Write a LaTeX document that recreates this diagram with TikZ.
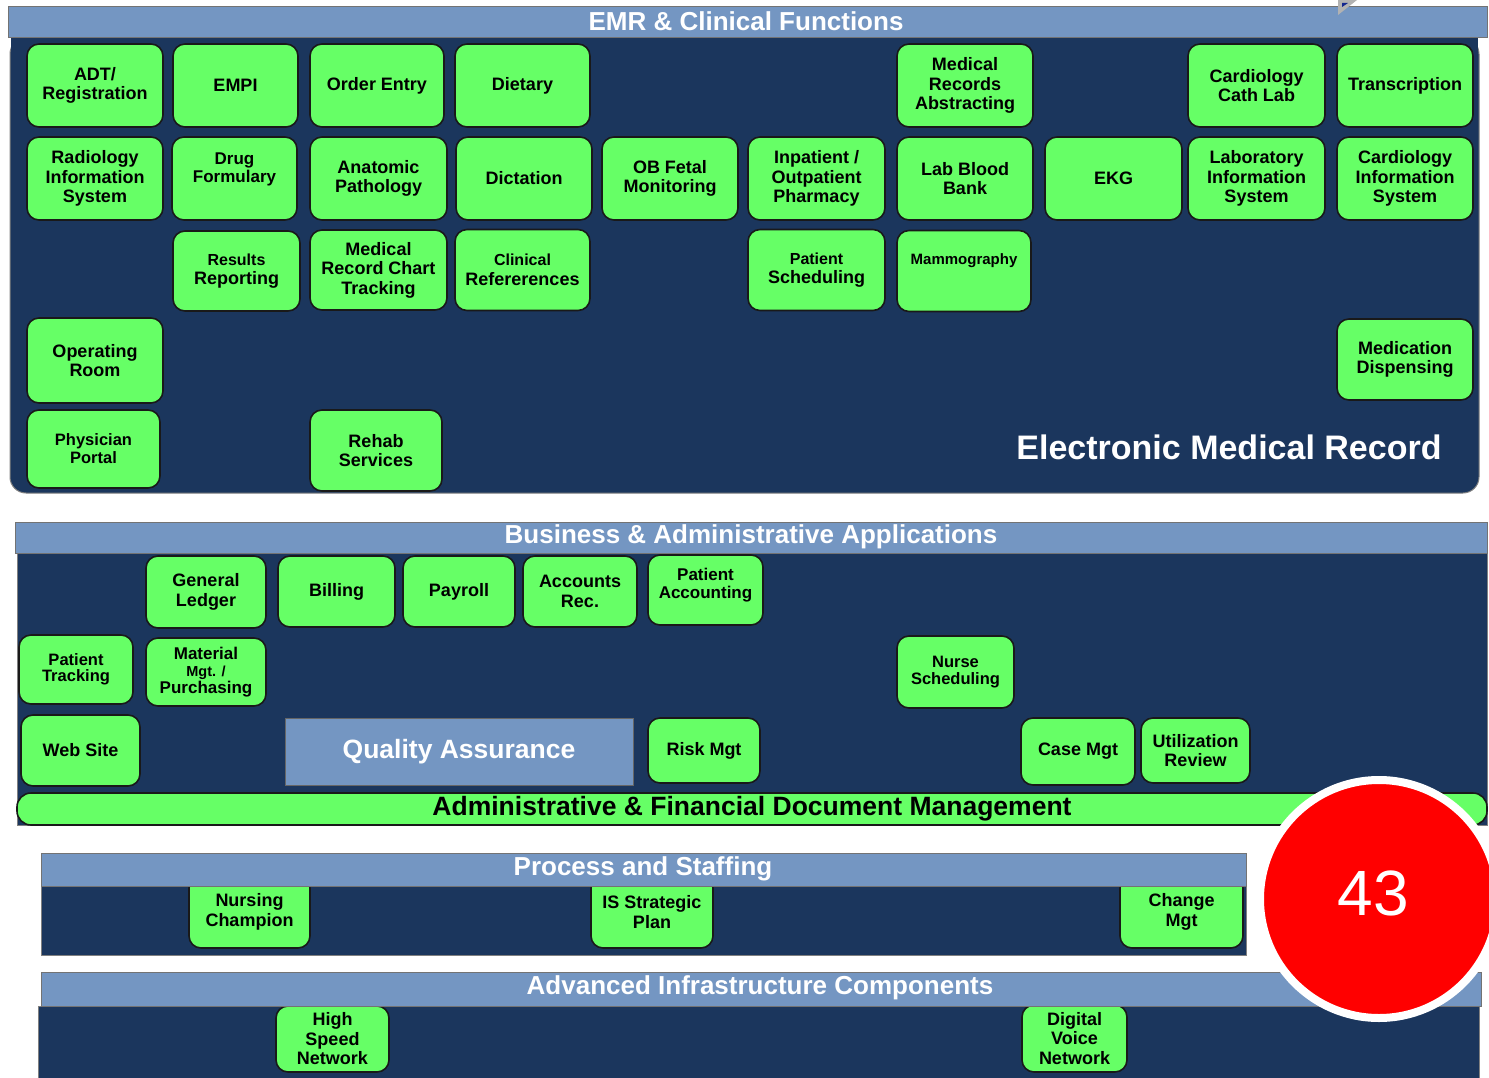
\documentclass[tikz,border=0pt]{standalone}
\usepackage{fontspec}
\setmainfont{Liberation Sans}
\usepackage{xcolor}
\usepackage{tikz}
\usetikzlibrary{positioning}

\definecolor{navy}{HTML}{1B365D}
\definecolor{bandblue}{HTML}{7496C2}
\definecolor{appgreen}{HTML}{66FF66}

\begin{document}
\begin{tikzpicture}[
    x=1pt, y=-1pt,
    app/.style={draw=black!90, line width=1.6pt, fill=appgreen, rounded corners=12pt, minimum width=136, minimum height=83, align=center, inner sep=2pt, font=\fontsize{18}{19.5}\selectfont\bfseries},
    band/.style={fill=bandblue, draw=black!55, line width=1pt},
    panel_bg/.style={fill=navy, draw=black!50, line width=1pt},
    band_title/.style={text=white, font=\fontsize{26}{28}\selectfont\bfseries}
]
    \useasboundingbox (0,0) rectangle (1489,1078);

    % EMR & Clinical Functions
    \fill[panel_bg, rounded corners=16] (10,38) rectangle (1479,493);
    \fill[navy] (11,38) rectangle (1478,120);
    \draw[band] (8,7) rectangle (1487,38);
    \fill[gray!60] (1338,0) -- (1338,15) -- (1357,0) -- cycle;
    \fill[navy!70!blue] (1342,3) -- (1342,7) -- (1348,3) -- cycle;
    \node (emr_title) [band_title] at (746, 21) {EMR \& Clinical Functions};

    \node (adt) [app] at (95, 85.5) {ADT/\\Registration};
    \node (empi) [app, minimum width=125] at (235.5, 85.5) {EMPI};
    \node (order_entry) [app, minimum width=134] at (377, 85.5) {Order Entry};
    \node (dietary) [app, minimum width=135] at (522.5, 85.5) {Dietary};
    \node (med_abstract) [app] at (965, 85.5) {Medical\\Records\\Abstracting};
    \node (cath_lab) [app, minimum width=137] at (1256.5, 85.5) {Cardiology\\Cath Lab};
    \node (transcription) [app] at (1405, 85.5) {Transcription};

    \node (ris) [app] at (95, 178.5) {Radiology\\Information\\System};
    \node (drug) [app, minimum width=125, text depth=22pt, font=\fontsize{17}{18}\selectfont\bfseries] at (234.5, 178.5) {Drug\\Formulary};
    \node (anatomic) [app, minimum width=137] at (378.5, 178.5) {Anatomic\\Pathology};
    \node (dictation) [app] at (524, 178.5) {Dictation};
    \node (ob_fetal) [app] at (670, 178.5) {OB Fetal\\Monitoring};
    \node (pharmacy) [app, minimum width=137] at (816.5, 178.5) {Inpatient /\\Outpatient\\Pharmacy};
    \node (blood_bank) [app] at (965, 178.5) {Lab Blood\\Bank};
    \node (ekg) [app, minimum width=137] at (1113.5, 178.5) {EKG};
    \node (lis) [app, minimum width=137] at (1256.5, 178.5) {Laboratory\\Information\\System};
    \node (cis) [app] at (1405, 178.5) {Cardiology\\Information\\System};

    \node (results) [app, minimum width=127, minimum height=80] at (236.5, 271) {{\fontsize{16}{17}\selectfont Results}\\Reporting};
    \node (chart) [app, minimum width=137, minimum height=80] at (378.5, 270) {Medical\\Record Chart\\Tracking};
    \node (clin_ref) [app, minimum width=135, minimum height=81] at (522.5, 270) {{\fontsize{16}{17}\selectfont Clinical}\\Refererences};
    \node (scheduling) [app, minimum width=137, minimum height=81] at (816.5, 270) {{\fontsize{16}{17}\selectfont Patient}\\Scheduling};
    \node (mammo) [app, minimum width=134, minimum height=81, text depth=24pt, font=\fontsize{15}{16}\selectfont\bfseries] at (964, 271) {Mammography};

    \node (op_room) [app, minimum height=85] at (95, 360.5) {Operating\\Room};
    \node (med_disp) [app, minimum height=81] at (1405, 359.5) {Medication\\Dispensing};
    \node (portal) [app, minimum width=133, minimum height=78, font=\fontsize{16.5}{18}\selectfont\bfseries] at (93.5, 449) {Physician\\Portal};
    \node (rehab) [app, minimum width=132, minimum height=81] at (376, 450.5) {Rehab\\Services};

    \node (emr_label) [text=white, font=\fontsize{34}{36}\selectfont\bfseries] at (1229, 447) {Electronic Medical Record};

    % Business & Administrative Applications
    \fill[panel_bg] (17,553) rectangle (1487,825);
    \draw[band] (15,522) rectangle (1487,553);
    \node (biz_title) [band_title] at (751, 537) {Business \& Administrative Applications};

    \node (ledger) [app, minimum width=120, minimum height=72] at (206, 592) {General\\Ledger};
    \node (billing) [app, minimum width=117, minimum height=71] at (336.5, 591.5) {Billing};
    \node (payroll) [app, minimum width=112, minimum height=71] at (459, 591.5) {Payroll};
    \node (acc_rec) [app, minimum width=114, minimum height=71] at (580, 591.5) {Accounts\\Rec.};
    \node (pat_acc) [app, minimum width=115, minimum height=70, text depth=14pt, font=\fontsize{17}{18}\selectfont\bfseries] at (705.5, 590) {Patient\\Accounting};
    \node (pat_track) [app, minimum width=114, minimum height=69, font=\fontsize{16.5}{16}\selectfont\bfseries] at (76, 669.5) {Patient\\Tracking};
    \node (material) [app, minimum width=120, minimum height=68, font=\fontsize{17}{17}\selectfont\bfseries] at (206, 672) {Material\\{\fontsize{14.5}{15}\selectfont Mgt. /}\\Purchasing};
    \node (nurse_sched) [app, minimum width=117, minimum height=72, font=\fontsize{16.5}{17}\selectfont\bfseries] at (955.5, 672) {Nurse\\Scheduling};
    \node (web_site) [app, minimum width=119, minimum height=71] at (80.5, 750.5) {Web Site};
    \node (quality) [fill=bandblue, draw=black!60, line width=1pt, minimum width=348, minimum height=67, text=white, font=\fontsize{26.5}{28}\selectfont\bfseries] at (459, 751.5) {Quality Assurance};
    \node (risk) [app, minimum width=112, minimum height=65] at (704, 750.5) {Risk Mgt};
    \node (case_mgt) [app, minimum width=114, minimum height=67] at (1078, 751.5) {Case Mgt};
    \node (util_rev) [app, minimum width=109, minimum height=65] at (1195.5, 750.5) {Utilization\\Review};

    \node (doc_mgt) [app, rounded corners=14pt, minimum width=1470, minimum height=32, font=\fontsize{26.5}{28}\selectfont\bfseries] at (752, 809) {Administrative \& Financial Document Management};

    % Process and Staffing
    \fill[panel_bg] (41,886) rectangle (1246,955);
    \node (nursing) [app, minimum width=121, minimum height=72] at (249.5, 912) {Nursing\\Champion};
    \node (is_plan) [app, minimum width=122, minimum height=72] at (652, 912) {IS Strategic\\Plan};
    \node (change) [app, minimum width=123, minimum height=72] at (1181.5, 912) {Change\\Mgt};
    \draw[band] (41,853) rectangle (1246,886);
    \node (proc_title) [band_title] at (643, 869) {Process and Staffing};

    % Advanced Infrastructure Components
    \fill[panel_bg] (38,1006) rectangle (1479,1085);
    \node (high_speed) [app, minimum width=113, minimum height=66] at (332.5, 1039) {High\\Speed\\Network};
    \node (voice) [app, minimum width=105, minimum height=67] at (1074.5, 1038.5) {Digital\\Voice\\Network};
    \draw[band] (41,972) rectangle (1481,1006);
    \node (infra_title) [band_title] at (760, 988) {Advanced Infrastructure Components};

    % Slide number
    \node (badge) [circle, fill=red, draw=white, line width=8pt, minimum size=238] at (1379, 899) {};
    \node (badge_num) [text=white, font=\fontsize{64}{66}\selectfont] at (1373, 893) {43};
\end{tikzpicture}
\end{document}
